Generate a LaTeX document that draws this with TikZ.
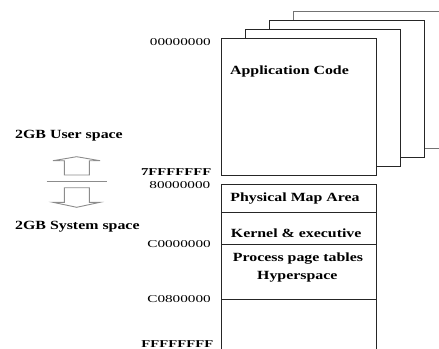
\documentclass[tikz,border=0pt]{standalone}
\usepackage{fontspec}
\setmainfont{Liberation Serif}
\newcommand{\bw}[1]{\scalebox{1.27}[1]{\bfseries #1}}
\newcommand{\hx}[1]{\scalebox{1.45}[1]{#1}}
\newcommand{\hxb}[1]{\scalebox{1.4}[1]{\bfseries #1}}
\begin{document}
\begin{tikzpicture}[x=1pt,y=-1pt,
  page/.style={draw=black!85,line width=0.9pt,fill=white},
  backpage/.style={draw=black!55,line width=0.9pt,fill=white},
  sep/.style={draw=black!85,line width=0.9pt},
  blocka/.style={draw=black!45,line width=0.9pt,fill=white},
  lbl/.style={inner sep=0pt,font=\fontsize{12.5}{14}\selectfont},
  hex/.style={inner sep=0pt,anchor=base east,font=\fontsize{10.5}{12}\selectfont}]
\useasboundingbox (0,0) rectangle (439,348);
\clip (0,0) rectangle (439,348);
% stacked pages
\draw[backpage] (293,11) rectangle (460,148);
\draw[page] (269,20) rectangle (424,157);
\draw[page] (245,29) rectangle (400,166);
\draw[page] (221,38) rectangle (376,175);
\node[lbl,anchor=base west] (app) at (230,74.7) {\bw{Application Code}};
% system space column
\draw[page] (221,184) rectangle (376,360);
\draw[sep] (221,212.3) -- (376,212.3);
\draw[sep] (221,244) -- (376,244);
\draw[sep] (221,299) -- (376,299);
\node[lbl,anchor=base] (pma) at (295,201.3) {\bw{Physical Map Area}};
\node[lbl,anchor=base] (ke) at (296.2,237.8) {\bw{Kernel \& executive}};
\node[lbl,anchor=base] (ppt) at (298,261.3) {\bw{Process page tables}};
\node[lbl,anchor=base] (hs) at (297.3,279.3) {\bw{Hyperspace}};
% address labels
\node[hex] (a0) at (211,45.7) {\hx{00000000}};
\node[hex] (a7) at (211.5,175) {\hxb{7FFFFFFF}};
\node[hex] (a8) at (210.5,188.3) {\hx{80000000}};
\node[hex] (ac) at (211,247.3) {\hx{C0000000}};
\node[hex] (ac8) at (211,302.3) {\hx{C0800000}};
\node[hex] (af) at (213.5,347.3) {\hxb{FFFFFFFF}};
% left side
\node[lbl,anchor=base west] (us) at (15,138.3) {\bw{2GB User space}};
\node[lbl,anchor=base west] (ss) at (15,229.5) {\bw{2GB System space}};
\draw[blocka] (76.7,156.7) -- (100,160.7) -- (89.3,160.7) -- (89.3,175) -- (64.3,175) -- (64.3,160.7) -- (53,160.7) -- cycle;
\draw[draw=black!45,line width=0.9pt] (46.7,181) -- (107,181);
\draw[blocka] (64.3,187.7) -- (89.3,187.7) -- (89.3,202.3) -- (100,202.3) -- (76.7,207.3) -- (53,202.3) -- (64.3,202.3) -- cycle;
\end{tikzpicture}
\end{document}
